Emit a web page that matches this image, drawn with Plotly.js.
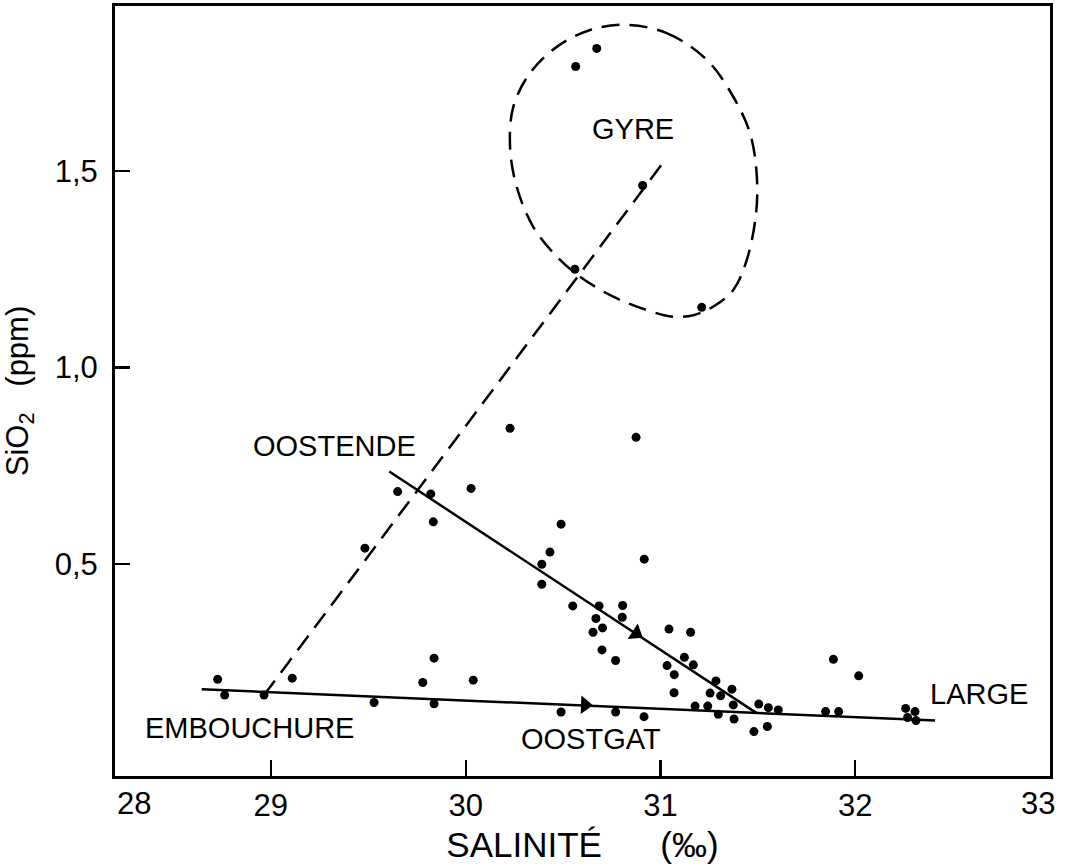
<!DOCTYPE html>
<html>
<head>
<meta charset="utf-8">
<script src="https://cdn.plot.ly/plotly-3.0.1.min.js"></script>
<style>html,body{margin:0;padding:0;background:#fff;}#chart{width:1065px;height:866px;}</style>
</head>
<body>
<div id="chart"></div>
<script>
// Measured samples: salinity (‰) and SiO2 (ppm)
const salinity = [30.673,30.565,30.909,30.561,31.212,30.228,30.875,29.651,29.821,30.028,29.834,29.483,
  30.490,30.433,30.391,30.391,30.917,30.550,30.685,30.806,30.669,30.804,30.703,30.654,30.700,30.770,
  31.044,31.155,31.123,31.169,31.034,31.071,31.070,31.285,31.367,31.255,31.309,31.374,31.178,31.243,
  31.297,31.378,31.505,31.554,31.605,31.480,31.549,31.848,31.915,31.888,32.018,32.259,32.307,32.269,
  32.312,29.838,28.727,29.110,29.780,30.039,28.763,28.965,29.530,29.838,30.490,30.770,30.916];
const silica = [1.812,1.766,1.463,1.250,1.153,0.845,0.822,0.684,0.678,0.692,0.607,0.540,
  0.601,0.530,0.499,0.448,0.512,0.393,0.393,0.394,0.361,0.364,0.337,0.326,0.281,0.254,
  0.334,0.326,0.262,0.243,0.241,0.218,0.172,0.202,0.181,0.171,0.164,0.141,0.138,0.138,
  0.117,0.105,0.143,0.134,0.128,0.073,0.086,0.124,0.124,0.257,0.215,0.132,0.124,0.109,
  0.101,0.260,0.206,0.209,0.198,0.204,0.166,0.166,0.147,0.144,0.123,0.123,0.111];

// Mixing lines
const estuaryLineX = [28.645, 32.410];   // EMBOUCHURE -> LARGE
const estuaryLineY = [0.181, 0.101];
const ostendLineX = [29.608, 31.494];    // OOSTENDE -> LARGE
const ostendLineY = [0.735, 0.120];
const gyreLineX = [28.965, 31.012];      // dashed line to the gyre
const gyreLineY = [0.166, 1.520];
const arrowX = [30.613, 30.875];
const arrowY = [0.141, 0.323];

// Gyre envelope (dashed closed curve)
const gyreX = [30.818,31.032,31.238,31.374,31.460,31.494,31.491,31.443,31.374,31.272,31.169,31.066,
  30.930,30.758,30.587,30.468,30.347,30.262,30.228,30.245,30.330,30.468,30.639,30.818];
const gyreY = [1.872,1.851,1.783,1.689,1.596,1.494,1.392,1.273,1.197,1.155,1.133,1.129,
  1.146,1.180,1.231,1.282,1.358,1.460,1.562,1.664,1.749,1.816,1.859,1.872];

// Labels
const labelText = ["OOSTENDE","EMBOUCHURE","OOSTGAT","LARGE","GYRE"];
const labelX = [29.329, 28.888, 30.644, 32.636, 30.859];
const labelY = [0.800, 0.083, 0.054, 0.169, 1.607];

const xTickVals = [29,30,31,32];
const xTickText = ["29","30","31","32"];
const xEdgeText = ["28","33"];
const yTickVals = [0.5,1.0,1.5];
const yTickText = ["0,5","1,0","1,5"];

const FONT = "Liberation Sans, Arial, sans-serif";

const traces = [
  {x: gyreX, y: gyreY, mode:'lines', line:{color:'#000', width:2.5, dash:'18px,10px', shape:'spline', smoothing:1}, hoverinfo:'skip'},
  {x: gyreLineX, y: gyreLineY, mode:'lines', line:{color:'#000', width:2.5, dash:'18px,10px'}, hoverinfo:'skip'},
  {x: estuaryLineX, y: estuaryLineY, mode:'lines', line:{color:'#000', width:2.5}, hoverinfo:'skip'},
  {x: ostendLineX, y: ostendLineY, mode:'lines', line:{color:'#000', width:2.5}, hoverinfo:'skip'},
  {x: salinity, y: silica, mode:'markers', marker:{color:'#000', size:9}},
  {x: arrowX, y: arrowY, mode:'markers', marker:{color:'#000', size:16, symbol:'triangle-right', angle:[2, 33]}, hoverinfo:'skip'}
];

const annotations = labelText.map((t,i)=>({x:labelX[i], y:labelY[i], xref:'x', yref:'y', text:t, showarrow:false,
  font:{family:FONT, size:29, color:'#000'}}));
annotations.push({x:0.02, y:0, xref:'paper', yref:'paper', text:xEdgeText[0], showarrow:false, xanchor:'center', yanchor:'top', yshift:-8,
  font:{family:FONT, size:31, color:'#000'}});
annotations.push({x:0.987, y:0, xref:'paper', yref:'paper', text:xEdgeText[1], showarrow:false, xanchor:'center', yanchor:'top', yshift:-8,
  font:{family:FONT, size:31, color:'#000'}});

const layout = {
  width:1065, height:866,
  margin:{l:115, r:15, t:6, b:90},
  paper_bgcolor:'#fff', plot_bgcolor:'#fff',
  showlegend:false,
  font:{family:FONT, color:'#000'},
  xaxis:{range:[28.2,33], tickvals:xTickVals, ticktext:xTickText, ticks:'inside', ticklen:16, tickwidth:2.2, tickcolor:'#000',
    showgrid:false, zeroline:false, showline:true, linewidth:3, linecolor:'#000', mirror:true,
    tickfont:{family:FONT, size:31, color:'#000'}, ticklabelstandoff:0,
    title:{text:'SALINITÉ      (‰)', font:{family:FONT, size:35, color:'#000'}, standoff:11}},
  yaxis:{range:[-0.04,1.92], tickvals:yTickVals, ticktext:yTickText, ticks:'inside', ticklen:15, tickwidth:2.2, tickcolor:'#000',
    showgrid:false, zeroline:false, showline:true, linewidth:3, linecolor:'#000', mirror:true,
    tickfont:{family:FONT, size:31, color:'#000'}, ticklabelstandoff:8,
    title:{text:'SiO<sub>2</sub>   (ppm)', font:{family:FONT, size:31, color:'#000'}, standoff:22}},
  annotations: annotations
};

Plotly.newPlot('chart', traces, layout, {staticPlot:true, displayModeBar:false});
</script>
</body>
</html>
